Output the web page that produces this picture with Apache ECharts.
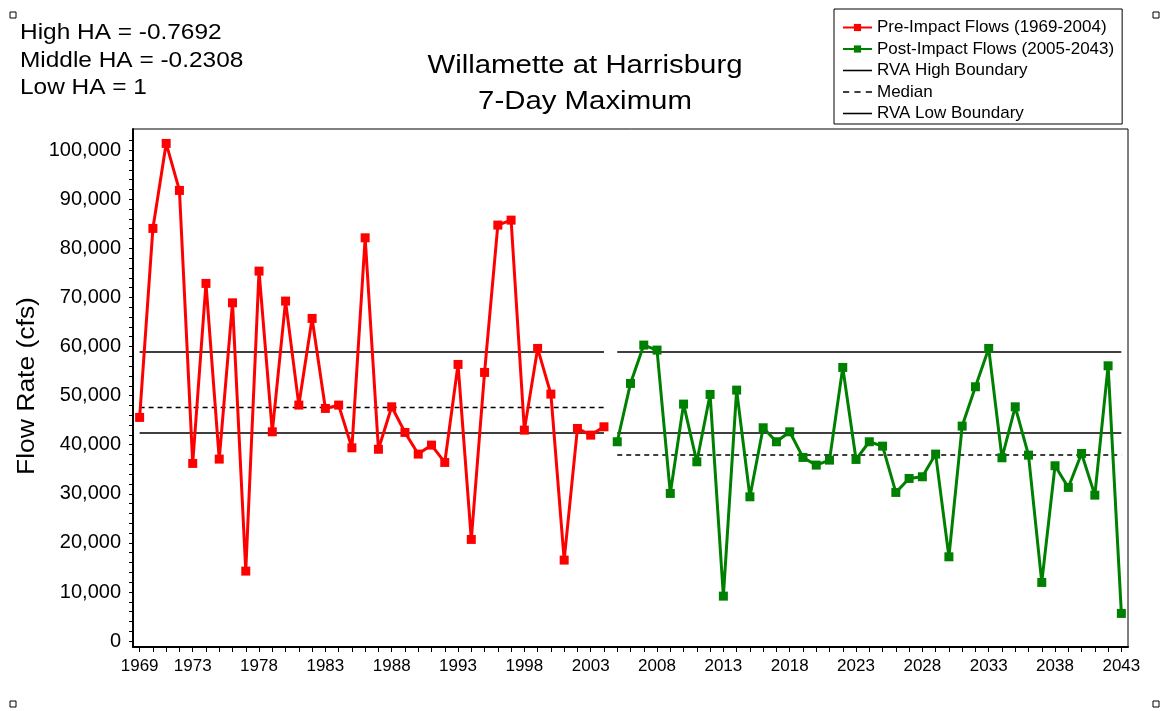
<!DOCTYPE html>
<html>
<head>
<meta charset="utf-8">
<title>Willamette at Harrisburg 7-Day Maximum</title>
<script src="https://cdn.jsdelivr.net/npm/echarts@6/dist/echarts.min.js"></script>
<style>
  html, body { margin: 0; padding: 0; background: #fff; }
  #chart { width: 1162px; height: 711px; }
</style>
</head>
<body>
<div id="chart"></div>
<script>
// Annual 7-day maximum flow (cfs)
const preStartYear = 1969;   // pre-impact period 1969-2004
const preFlows = [
  45560, 84050, 101360, 91790, 36190, 72850, 37070, 68900, 14260, 75360,
  42630, 69250, 48070, 65720, 47390, 48070, 39370, 82140, 39070, 47720,
  42500, 38090, 39920, 36390, 56350, 20710, 54720, 84730, 85740, 42970,
  59610, 50310, 16500, 43310, 41950, 43650
];
const postStartYear = 2005;  // post-impact period 2005-2043
const postFlows = [
  40600, 52480, 60290, 59270, 30080, 48270, 36520, 50240, 9160, 51120,
  29390, 43450, 40600, 42630, 37410, 35850, 36860, 55740, 37000, 40600,
  39710, 30280, 33130, 33470, 38090, 17170, 43790, 51800, 59610, 37340,
  47720, 37880, 11950, 35710, 31300, 38220, 29730, 56070, 5640
];

// RVA target range and medians (cfs)
const rvaHigh = 58900;
const rvaLow = 42400;
const preMedian = 47600;
const postMedian = 37900;

// Axis labels
const xLabelYears = [1969, 1973, 1978, 1983, 1988, 1993, 1998, 2003, 2008, 2013, 2018, 2023, 2028, 2033, 2038, 2043];
const yLabelValues = [0, 10000, 20000, 30000, 40000, 50000, 60000, 70000, 80000, 90000, 100000];

const titleLines = ['Willamette at Harrisburg', '7-Day Maximum'];
const headerLines = ['High HA = -0.7692', 'Middle HA = -0.2308', 'Low HA = 1'];
const yAxisTitle = 'Flow Rate (cfs)';

const preEnd = preStartYear + preFlows.length - 1;
const postEnd = postStartYear + postFlows.length - 1;

const preData = preFlows.map((v, i) => [preStartYear + i, v]);
const postData = postFlows.map((v, i) => [postStartYear + i, v]);

// two-segment horizontal line: one segment per period, gap between
function splitLine(preVal, postVal) {
  return [
    [preStartYear, preVal], [preEnd, preVal],
    [(preEnd + postStartYear) / 2, '-'],
    [postStartYear, postVal], [postEnd, postVal]
  ];
}

// yearly ticks on the x axis, 2,000 cfs ticks on the y axis
const xTickYears = [];
for (let y = preStartYear; y <= postEnd; y++) xTickYears.push(y);
const yTickValues = [];
for (let v = 0; v <= 102000; v += 2000) yTickValues.push(v);

const font = '"Liberation Sans", Arial, sans-serif';

// legend glyphs for the reference lines
const solidIcon = 'path://M0,0H28V1.5H0Z';
const dashIcon = 'path://M0,0H6V1.5H0Z M11,0H17V1.5H11Z M22,0H28V1.5H22Z';

const chart = echarts.init(document.getElementById('chart'), null, { renderer: 'canvas' });

function handle(x, y) {
  return {
    type: 'rect', shape: { x: x, y: y, width: 6, height: 6 },
    style: { fill: '#fff', stroke: '#000', lineWidth: 1 }, silent: true
  };
}

function wideText(text, x, y, size, align, extra) {
  return Object.assign({
    type: 'text', x: x, y: y, silent: true, scaleX: 1.11,
    style: { text: text, font: size + 'px ' + font, fill: '#000', align: align, verticalAlign: 'middle' }
  }, extra || {});
}

chart.setOption({
  backgroundColor: '#fff',
  animation: false,
  textStyle: { fontFamily: font },
  graphic: [
    wideText(titleLines[0], 585, 66, 26, 'center', { scaleX: 1.13 }),
    wideText(titleLines[1], 585, 102, 26, 'center', { scaleX: 1.13 }),
    wideText(headerLines[0], 20, 33, 22, 'left'),
    wideText(headerLines[1], 20, 60.5, 22, 'left'),
    wideText(headerLines[2], 20, 88, 22, 'left'),
    wideText(yAxisTitle, 28, 386, 23, 'center', { rotation: Math.PI / 2, scaleX: 1.15 }),
    handle(10, 12), handle(1153, 12), handle(10, 701), handle(1153, 701)
  ],
  legend: {
    orient: 'vertical',
    left: 834, top: 9,
    padding: [10, 8, 2, 8],
    itemGap: 4.5,
    itemWidth: 29, itemHeight: 9,
    backgroundColor: '#fff',
    borderColor: '#000', borderWidth: 1,
    borderRadius: 0,
    textStyle: { fontFamily: font, fontSize: 17, color: '#000', lineHeight: 17 },
    data: [
      { name: 'Pre-Impact Flows (1969-2004)' },
      { name: 'Post-Impact Flows (2005-2043)' },
      { name: 'RVA High Boundary', icon: solidIcon },
      { name: 'Median', icon: dashIcon },
      { name: 'RVA Low Boundary', icon: solidIcon }
    ]
  },
  grid: {
    left: 133, right: 34, top: 129, bottom: 64,
    show: true, borderColor: '#000', borderWidth: 1, backgroundColor: '#fff'
  },
  xAxis: {
    type: 'value',
    min: 1968.5, max: 2043.5,
    splitLine: { show: false },
    axisLine: { show: true, onZero: false, lineStyle: { color: '#000', width: 2 } },
    axisTick: { show: true, customValues: xTickYears, length: 5, lineStyle: { color: '#000' } },
    axisLabel: {
      customValues: xLabelYears, margin: 11,
      formatter: v => String(v),
      fontFamily: font, fontSize: 17, color: '#000'
    }
  },
  yAxis: {
    type: 'value',
    min: -1200, max: 104300,
    splitLine: { show: false },
    axisLine: { show: true, onZero: false, lineStyle: { color: '#000', width: 2 } },
    axisTick: { show: true, customValues: yTickValues, length: 4, lineStyle: { color: '#000' } },
    axisLabel: {
      customValues: yLabelValues, margin: 12,
      fontFamily: font, fontSize: 20, color: '#000'
    }
  },
  series: [
    {
      name: 'RVA High Boundary', type: 'line', data: splitLine(rvaHigh, rvaHigh),
      symbol: 'none', connectNulls: false, silent: true,
      lineStyle: { color: '#000', width: 1.5 }, itemStyle: { color: '#000' }, z: 1
    },
    {
      name: 'Median', type: 'line', data: splitLine(preMedian, postMedian),
      symbol: 'none', connectNulls: false, silent: true,
      lineStyle: { color: '#000', width: 1.5, type: [5, 4] }, itemStyle: { color: '#000' }, z: 1
    },
    {
      name: 'RVA Low Boundary', type: 'line', data: splitLine(rvaLow, rvaLow),
      symbol: 'none', connectNulls: false, silent: true,
      lineStyle: { color: '#000', width: 1.5 }, itemStyle: { color: '#000' }, z: 1
    },
    {
      name: 'Pre-Impact Flows (1969-2004)', type: 'line', data: preData,
      symbol: 'rect', symbolSize: 9, showAllSymbol: true,
      lineStyle: { color: '#ff0000', width: 3 }, itemStyle: { color: '#ff0000' }, z: 3
    },
    {
      name: 'Post-Impact Flows (2005-2043)', type: 'line', data: postData,
      symbol: 'rect', symbolSize: 9, showAllSymbol: true,
      lineStyle: { color: '#008000', width: 3 }, itemStyle: { color: '#008000' }, z: 3
    }
  ]
});
</script>
</body>
</html>
